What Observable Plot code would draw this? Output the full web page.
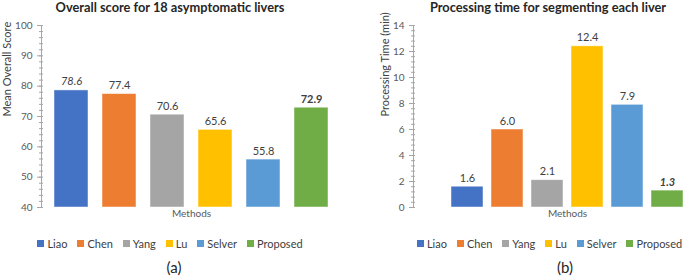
<!DOCTYPE html>
<html><head><meta charset="utf-8">
<script src="https://cdn.jsdelivr.net/npm/d3@7"></script>
<script src="https://cdn.jsdelivr.net/npm/@observablehq/plot@0.6"></script>
<style>
body{margin:0;background:#fff;font-family:Lato,sans-serif;}
#wrap{display:flex;width:685px;height:277px;overflow:hidden;}
.panel{position:relative;flex:none;overflow:hidden;height:277px;}
.title{font-weight:bold;font-size:12.8px;color:#262626;text-align:center;height:14px;line-height:14px;white-space:nowrap;}
.legendbox{position:absolute;top:236px;left:0;display:flex;justify-content:center;}
.caption{position:absolute;top:258px;font-size:15px;color:#262626;text-align:center;}
.lg-swatches-wrap{min-height:14px !important;justify-content:center;font-size:11px;color:#404040;font-family:Lato,sans-serif;}
.lg-swatches-wrap .lg-swatch{margin-right:10px !important;}
.lg-swatches-wrap .lg-swatch:last-child{margin-right:0 !important;}
.lg-swatch > svg{margin-right:3px !important;}
svg{display:block;}
</style>
</head><body>
<div id="wrap">
  <div class="panel" id="pa" style="width:345px">
    <div class="title" style="width:340px">Overall score for 18 asymptomatic livers</div>
    <div id="ca"></div>
    <div class="legendbox" id="la" style="width:340px"></div>
    <div class="caption" style="left:154px;width:40px">(a)</div>
  </div>
  <div class="panel" id="pb" style="width:340px">
    <div class="title" style="width:406px">Processing time for segmenting each liver</div>
    <div id="cb"></div>
    <div class="legendbox" id="lb" style="width:409px"></div>
    <div class="caption" style="left:200px;width:40px">(b)</div>
  </div>
</div>
<script>
const methods = ["Liao", "Chen", "Yang", "Lu", "Selver", "Proposed"];
const colors = ["#4472C4", "#ED7D31", "#A5A5A5", "#FFC000", "#5B9BD5", "#70AD47"];
const scoreValues = [78.6, 77.4, 70.6, 65.6, 55.8, 72.9];
const timeValues = [1.6, 6.0, 2.1, 12.4, 7.9, 1.3];
const scoreTicks = [40, 50, 60, 70, 80, 90, 100];
const timeTicks = [0, 2, 4, 6, 8, 10, 12, 14];
const scoreMinorStep = 2;
const timeMinorStep = 0.4;
const scoreItalic = ["Liao"];
const scoreBold = ["Proposed"];
const timeItalic = ["Proposed"];
const timeBold = ["Proposed"];

const labelColor = "#404040";
const tickColor = "#595959";
const axisColor = "#a6a6a6";

function panel({values, ticks, minorStep, italic, bold, ylabel, width, marginLeft, marginRight, xopts, ylabelDx}) {
  const data = methods.map((m, i) => ({method: m, value: values[i]}));
  const lo = ticks[0], hi = ticks[ticks.length - 1];
  const minor = d3.range(lo, hi + minorStep / 2, minorStep).map(v => +v.toFixed(4));
  const innerW = width - marginLeft - marginRight;
  const fmt = d => d.value.toFixed(1);
  const plain = data.filter(d => !italic.includes(d.method) && !bold.includes(d.method));
  const textMark = (subset, extra) => Plot.text(subset, {x: "method", y: "value", text: fmt, lineAnchor: "bottom", dy: -5, fontSize: 11, fill: labelColor, ...extra});
  return Plot.plot({
    width, height: 211,
    marginLeft, marginRight, marginTop: 11, marginBottom: 18,
    style: {fontFamily: "Lato, sans-serif", background: "#fff", overflow: "visible", maxWidth: "none"},
    x: {domain: methods, axis: null, ...xopts},
    y: {domain: [lo, hi]},
    color: {domain: methods, range: colors},
    marks: [
      Plot.barY(data, {x: "method", y1: lo, y2: "value", fill: "method", stroke: "#ffffff", strokeOpacity: 0.6, strokeWidth: 0.8}),
      Plot.frame({anchor: "left", stroke: axisColor}),
      Plot.ruleY(minor, {stroke: axisColor, insetRight: innerW - 2, insetLeft: -2}),
      Plot.axisY({ticks, tickSize: 4, tickPadding: 5, fontSize: 10, fill: tickColor, stroke: axisColor, label: null}),
      textMark(plain, {}),
      textMark(data.filter(d => italic.includes(d.method) && !bold.includes(d.method)), {fontStyle: "italic"}),
      textMark(data.filter(d => bold.includes(d.method) && !italic.includes(d.method)), {fontWeight: "bold"}),
      textMark(data.filter(d => bold.includes(d.method) && italic.includes(d.method)), {fontWeight: "bold", fontStyle: "italic"}),
      Plot.text(["Methods"], {frameAnchor: "bottom", dy: 9, fontSize: 10, fill: tickColor}),
      Plot.text([ylabel], {frameAnchor: "left", dx: ylabelDx, rotate: -90, fontSize: 11, fill: labelColor})
    ]
  });
}

function legend() {
  return Plot.legend({color: {domain: methods, range: colors}, legend: "swatches", swatchSize: 7, className: "lg"});
}

document.getElementById("ca").append(panel({
  values: scoreValues, ticks: scoreTicks, minorStep: scoreMinorStep,
  italic: scoreItalic, bold: scoreBold, ylabel: "Mean Overall Score",
  width: 345, marginLeft: 41, marginRight: 4,
  xopts: {paddingInner: 0.3, paddingOuter: 0.25}, ylabelDx: -34
}));
document.getElementById("cb").append(panel({
  values: timeValues, ticks: timeTicks, minorStep: timeMinorStep,
  italic: timeItalic, bold: timeBold, ylabel: "Processing Time (min)",
  width: 406, marginLeft: 68, marginRight: 30,
  xopts: {paddingInner: 0.19, paddingOuter: 0.87}, ylabelDx: -28
}));
document.getElementById("la").append(legend());
document.getElementById("lb").append(legend());
</script>
</body></html>
